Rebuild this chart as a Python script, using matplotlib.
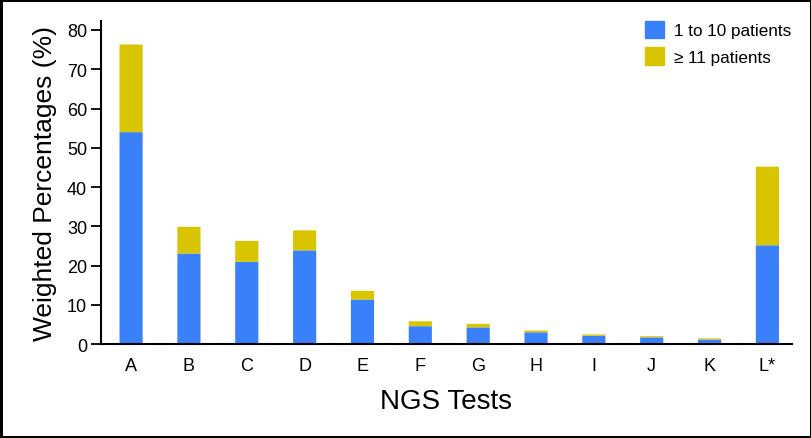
import numpy as np
import matplotlib.pyplot as plt
from matplotlib.patches import Patch

# data
tests = ["A", "B", "C", "D", "E", "F", "G", "H", "I", "J", "K", "L*"]
small = [54.0, 23.1, 21.0, 23.9, 11.4, 4.6, 4.3, 3.05, 2.15, 1.75, 1.2, 25.2]      # 1 to 10 patients
total = [76.3, 29.9, 26.3, 29.0, 13.6, 5.85, 5.2, 3.5, 2.5, 2.05, 1.5, 45.2]
large = [t - s for t, s in zip(total, small)]                                   # >= 11 patients

blue = "#3a80fb"
yellow = "#d9c400"
fam = ["Liberation Sans", "DejaVu Sans"]

fig = plt.figure(figsize=(8.12, 4.39), dpi=100, linewidth=2.5, edgecolor="black")
ax = fig.add_axes([0.1244, 0.2135, 0.8506, 0.7365])

x = np.arange(len(tests))
b1 = ax.bar(x, small, width=0.4, color=blue)
b2 = ax.bar(x, large, width=0.4, bottom=small, color=yellow)
for r in list(b1) + list(b2):
    r.set_snap(False)

ax.set_xlim(-0.52, 11.42)
ax.set_ylim(0, 82.3)
ax.set_yticks(range(0, 81, 10))
ax.set_xticks(x)
ax.set_xticklabels(tests, family=fam, fontsize=13)
ax.tick_params(axis="x", length=0, pad=9)
ax.tick_params(axis="y", length=7, width=1.3, labelsize=13, pad=3)
for lbl in ax.get_yticklabels():
    lbl.set_family(fam)

for s in ["top", "right"]:
    ax.spines[s].set_visible(False)
ax.spines["left"].set_linewidth(1.5)
ax.spines["bottom"].set_linewidth(1.5)

ax.set_ylabel("Weighted Percentages (%)", fontsize=19, family=fam, labelpad=7)
ax.set_xlabel("NGS Tests", fontsize=20, family=fam, labelpad=10)

handles = [Patch(color=blue, label="1 to 10 patients"),
           Patch(color=yellow, label="≥ 11 patients")]
ax.legend(handles=handles, loc="upper right", frameon=False,
          prop={"family": fam, "size": 12.3},
          handlelength=1.15, handleheight=1.2, handletextpad=0.6, labelspacing=0.5,
          borderpad=0.0, borderaxespad=0.0, bbox_to_anchor=(1.0, 1.0))

fig.savefig("out.png", dpi=100)
